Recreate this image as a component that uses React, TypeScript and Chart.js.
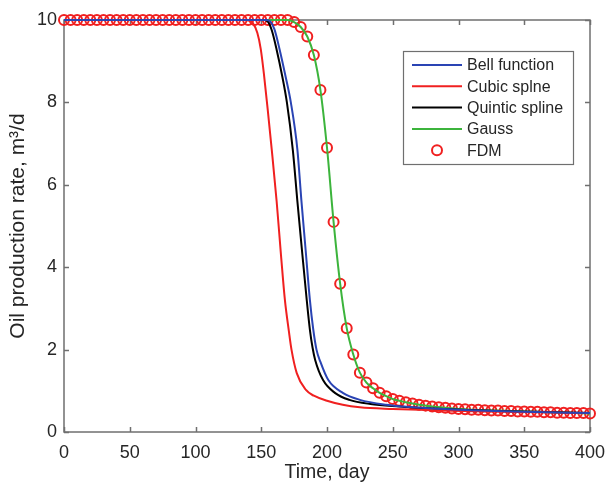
import React, { useEffect, useRef } from "react";
import { Chart, registerables } from "chart.js";

Chart.register(...registerables);

// ---- data ----
const bellDays = [0, 154, 157, 160, 164, 168.5, 172.5, 177.5, 180.5, 183.8, 187, 189.5, 192, 195, 201, 212, 225, 245, 265, 300, 350, 400];
const bellValues = [10, 10, 9.96, 9.78, 9.28, 8.63, 8.0, 6.85, 5.63, 4.4, 3.2, 2.5, 2.0, 1.7, 1.26, 0.95, 0.78, 0.66, 0.6, 0.54, 0.49, 0.46];

const cubicDays = [0, 138, 141, 143.5, 147, 149.6, 152, 155, 158, 161.7, 165, 168, 171, 173, 177, 184, 190, 200, 212, 225, 250, 280, 320, 360, 400];
const cubicValues = [10, 10, 9.98, 9.93, 9.69, 9.3, 8.7, 7.8, 6.85, 5.6, 4.3, 3.2, 2.45, 2.0, 1.43, 1.02, 0.88, 0.76, 0.66, 0.6, 0.56, 0.53, 0.5, 0.48, 0.46];

const quinticDays = [0, 152, 155, 158, 161.7, 166, 169.5, 174, 177.4, 181, 184.6, 187, 189, 191, 197, 206, 217, 233, 255, 280, 320, 360, 400];
const quinticValues = [10, 10, 9.96, 9.75, 9.28, 8.63, 8.0, 6.85, 5.63, 4.4, 3.2, 2.48, 2.05, 1.75, 1.26, 0.95, 0.78, 0.68, 0.62, 0.57, 0.52, 0.49, 0.46];

const gaussDays = [0, 100, 170, 175, 180, 185, 190, 195, 200, 205, 210, 215, 220, 225, 230, 235, 240, 245, 250, 260, 270, 280, 300, 350, 400];
const gaussValues = [10, 10, 10, 9.95, 9.83, 9.6, 9.15, 8.3, 6.9, 5.1, 3.6, 2.52, 1.88, 1.44, 1.2, 1.06, 0.95, 0.87, 0.8, 0.72, 0.66, 0.62, 0.56, 0.5, 0.45];

const fdmDays = [
  0, 5, 10, 15, 20, 25, 30, 35, 40, 45, 50, 55, 60, 65, 70, 75, 80, 85, 90, 95,
  100, 105, 110, 115, 120, 125, 130, 135, 140, 145, 150, 155, 160, 165, 170,
  175, 180, 185, 190, 195, 200, 205, 210, 215, 220, 225, 230, 235, 240, 245,
  250, 255, 260, 265, 270, 275, 280, 285, 290, 295, 300, 305, 310, 315, 320,
  325, 330, 335, 340, 345, 350, 355, 360, 365, 370, 375, 380, 385, 390, 395, 400,
];
const fdmValues = [
  10, 10, 10, 10, 10, 10, 10, 10, 10, 10, 10, 10, 10, 10, 10, 10, 10, 10, 10, 10,
  10, 10, 10, 10, 10, 10, 10, 10, 10, 10, 10, 10, 10, 10, 10,
  9.95, 9.83, 9.6, 9.15, 8.3, 6.9, 5.1, 3.6, 2.52, 1.88, 1.44, 1.2, 1.06, 0.95, 0.87,
  0.8, 0.76, 0.72, 0.69, 0.66, 0.64, 0.62, 0.6, 0.59, 0.57, 0.56, 0.55, 0.54, 0.54, 0.53,
  0.52, 0.52, 0.51, 0.51, 0.5, 0.5, 0.49, 0.49, 0.48, 0.48, 0.47, 0.47, 0.46, 0.46, 0.46, 0.45,
];

const seriesLabels = ["Bell function", "Cubic splne", "Quintic spline", "Gauss", "FDM"];
const xTitle = "Time, day";
const yTitle = "Oil production rate, m³/d";

// ---- styles ----
const FONT = "'Liberation Sans', Arial, Helvetica, sans-serif";
const AXIS_COLOR = "#6f6f6f";
const TEXT_COLOR = "#262626";
const BLUE = "#2a44b4";
const RED = "#f02020";
const BLACK = "#000000";
const GREEN = "#3cb43c";
const TICK = 5;

const toPoints = (xs: number[], ys: number[]) => xs.map((x, i) => ({ x, y: ys[i] }));

const framePlugin = {
  id: "frameTicks",
  beforeDatasetsDraw(chart: any) {
    const { ctx, chartArea, scales } = chart;
    const { left, right, top, bottom } = chartArea;
    const xs = scales.x;
    const ys = scales.y;
    ctx.save();
    ctx.strokeStyle = AXIS_COLOR;
    ctx.lineWidth = 1.5;
    ctx.strokeRect(left, top, right - left, bottom - top);
    ctx.beginPath();
    xs.ticks.forEach((t: any) => {
      const px = Math.round(xs.getPixelForValue(t.value)) + 0.5;
      ctx.moveTo(px, bottom);
      ctx.lineTo(px, bottom - TICK);
      ctx.moveTo(px, top);
      ctx.lineTo(px, top + TICK);
    });
    ys.ticks.forEach((t: any) => {
      const py = Math.round(ys.getPixelForValue(t.value)) + 0.5;
      ctx.moveTo(left, py);
      ctx.lineTo(left + TICK, py);
      ctx.moveTo(right, py);
      ctx.lineTo(right - TICK, py);
    });
    ctx.stroke();
    ctx.restore();
  },
  afterDraw(chart: any) {
    const { ctx, chartArea } = chart;
    const bx = chartArea.right - 187;
    const by = chartArea.top + 31;
    const bw = 170;
    const bh = 113;
    ctx.save();
    ctx.fillStyle = "#ffffff";
    ctx.fillRect(bx, by, bw, bh);
    ctx.strokeStyle = AXIS_COLOR;
    ctx.lineWidth = 1.2;
    ctx.strokeRect(bx + 0.5, by + 0.5, bw, bh);
    ctx.font = `16px ${FONT}`;
    ctx.textBaseline = "middle";
    ctx.textAlign = "left";
    chart.data.datasets.forEach((ds: any, i: number) => {
      const ry = by + 14 + i * 21.3;
      const x1 = bx + 9;
      const x2 = bx + 59;
      if (ds.showLine === false) {
        ctx.beginPath();
        ctx.arc((x1 + x2) / 2, ry, 5, 0, Math.PI * 2);
        ctx.strokeStyle = ds.borderColor;
        ctx.lineWidth = 2;
        ctx.stroke();
      } else {
        ctx.beginPath();
        ctx.moveTo(x1, ry);
        ctx.lineTo(x2, ry);
        ctx.strokeStyle = ds.borderColor;
        ctx.lineWidth = 2;
        ctx.stroke();
      }
      ctx.fillStyle = TEXT_COLOR;
      ctx.fillText(ds.label, bx + 64, ry + 1);
    });
    ctx.restore();
  },
};

export default function App() {
  const ref = useRef<HTMLCanvasElement | null>(null);

  useEffect(() => {
    document.body.style.margin = "0";
    const canvas = ref.current;
    if (!canvas) return;
    const lineDs = (label: string, xs: number[], ys: number[], color: string) => ({
      label,
      data: toPoints(xs, ys),
      borderColor: color,
      backgroundColor: color,
      borderWidth: 2,
      pointRadius: 0,
      cubicInterpolationMode: "monotone" as const,
      clip: false as const,
    });
    const chart = new Chart(canvas, {
      type: "line",
      data: {
        datasets: [
          lineDs(seriesLabels[0], bellDays, bellValues, BLUE),
          lineDs(seriesLabels[1], cubicDays, cubicValues, RED),
          lineDs(seriesLabels[2], quinticDays, quinticValues, BLACK),
          lineDs(seriesLabels[3], gaussDays, gaussValues, GREEN),
          {
            label: seriesLabels[4],
            data: toPoints(fdmDays, fdmValues),
            showLine: false,
            borderColor: RED,
            backgroundColor: "rgba(0,0,0,0)",
            pointRadius: 5,
            pointBorderWidth: 2,
            pointStyle: "circle",
            clip: false as const,
          } as any,
        ],
      },
      options: {
        responsive: false,
        animation: false,
        devicePixelRatio: 1,
        layout: { padding: { top: 20, right: 15, left: 0, bottom: 0 } },
        plugins: { legend: { display: false }, tooltip: { enabled: false } },
        scales: {
          x: {
            type: "linear",
            min: 0,
            max: 400,
            ticks: { stepSize: 50, padding: 10, color: TEXT_COLOR, font: { family: FONT, size: 18 }, maxRotation: 0 },
            grid: { display: false, drawTicks: false },
            border: { display: false },
            title: { display: true, text: xTitle, color: TEXT_COLOR, font: { family: FONT, size: 19.5 }, padding: { top: 0, bottom: 5 } },
            afterFit: (s: any) => {
              s.height = 57;
              s.paddingLeft = 0;
              s.paddingRight = 0;
            },
          },
          y: {
            type: "linear",
            min: 0,
            max: 10,
            ticks: { stepSize: 2, padding: 7, color: TEXT_COLOR, font: { family: FONT, size: 18 } },
            grid: { display: false, drawTicks: false },
            border: { display: false },
            title: { display: true, text: yTitle, color: TEXT_COLOR, font: { family: FONT, size: 21 }, padding: { top: 6, bottom: 0 } },
            afterFit: (s: any) => {
              s.width = 64;
              s.paddingTop = 0;
              s.paddingBottom = 0;
            },
          },
        },
      },
      plugins: [framePlugin],
    });
    return () => chart.destroy();
  }, []);

  return (
    <div style={{ width: 605, height: 489, background: "#fff" }}>
      <canvas ref={ref} width={605} height={489} style={{ display: "block" }} />
    </div>
  );
}
